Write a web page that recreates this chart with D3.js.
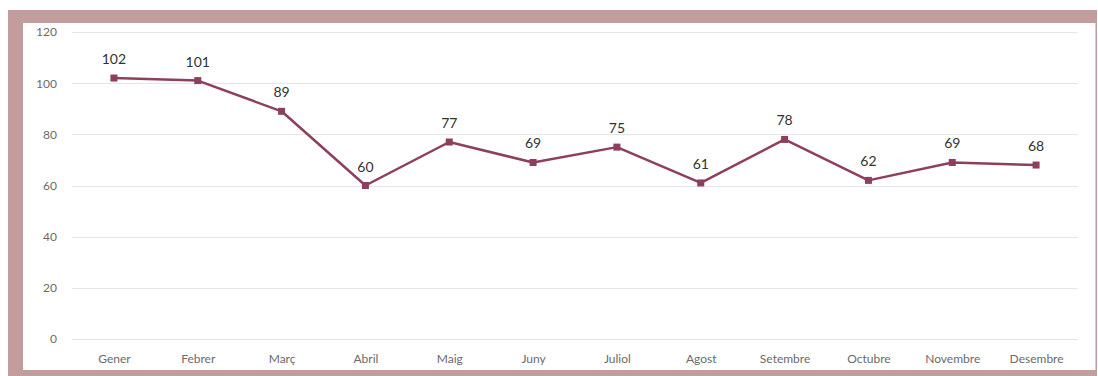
<!DOCTYPE html>
<html><head><meta charset="utf-8">
<script src="https://cdn.jsdelivr.net/npm/d3@7"></script>
<style>body{margin:0;background:#fff;}svg{display:block;}</style>
</head><body>
<svg id="c" width="1098" height="376"></svg>
<script>
const months = ["Gener","Febrer","Març","Abril","Maig","Juny","Juliol","Agost","Setembre","Octubre","Novembre","Desembre"];
const values = [102,101,89,60,77,69,75,61,78,62,69,68];
const yTicks = [0,20,40,60,80,100,120];

const svg = d3.select("#c");
// frame
svg.append("rect").attr("x",8).attr("y",10).attr("width",1089).attr("height",366).attr("fill","#c39d9d");
svg.append("rect").attr("x",23).attr("y",23).attr("width",1072).attr("height",347).attr("fill","#fff");
svg.append("line").attr("x1",1095.5).attr("x2",1095.5).attr("y1",23).attr("y2",370).attr("stroke","#cfcfcf").attr("stroke-width",1);

const x = d3.scalePoint().domain(months).range([72,1078]).padding(0.5);
const y = d3.scaleLinear().domain([0,120]).range([339,32]);

const grid = svg.append("g");
grid.selectAll("line").data(yTicks).join("line")
  .attr("x1",72).attr("x2",1078)
  .attr("y1",d=>Math.round(y(d))+0.5).attr("y2",d=>Math.round(y(d))+0.5)
  .attr("stroke","#e6e6e6").attr("stroke-width",1);

const font = "Lato, 'Open Sans', sans-serif";
const yAxis = d3.axisLeft(y).tickValues(yTicks).tickSize(0).tickPadding(0);
const ya = svg.append("g").attr("transform","translate(57,0)").call(yAxis);
ya.select(".domain").remove();
ya.selectAll("text").attr("font-family",font).attr("font-size","12px").attr("fill","#6b6b6b");

const xAxis = d3.axisBottom(x).tickSize(0).tickPadding(0);
const xa = svg.append("g").attr("transform","translate(0,354)").call(xAxis);
xa.select(".domain").remove();
xa.selectAll("text").attr("font-family",font).attr("font-size","12px").attr("fill","#6b6b6b");

const color = "#8e3f5e";
const line = d3.line().x((d,i)=>x(months[i])).y(d=>y(d));
svg.append("path").datum(values).attr("d",line).attr("fill","none").attr("stroke",color).attr("stroke-width",2.5).attr("stroke-linejoin","round");

svg.append("g").selectAll("rect").data(values).join("rect")
  .attr("x",(d,i)=>x(months[i])-3.5).attr("y",d=>y(d)-3.5)
  .attr("width",7).attr("height",7).attr("fill",color);

svg.append("g").selectAll("text").data(values).join("text")
  .attr("x",(d,i)=>x(months[i])).attr("y",d=>y(d)-14)
  .attr("text-anchor","middle")
  .attr("font-family",font).attr("font-size","14px").attr("fill","#333")
  .text(d=>d);
</script>
</body></html>
